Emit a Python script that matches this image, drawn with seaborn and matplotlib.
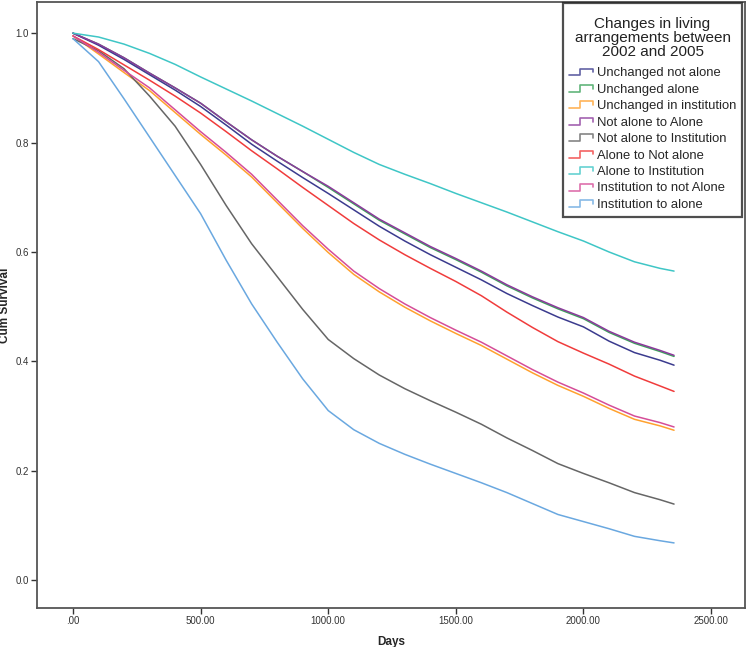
import pandas as pd
import matplotlib
matplotlib.use("Agg")
import matplotlib.pyplot as plt
from matplotlib.lines import Line2D
from matplotlib.legend_handler import HandlerBase
from matplotlib.offsetbox import DrawingArea
import seaborn as sns

sns.set_style("white")
plt.rcParams['font.family'] = ['Liberation Sans', 'DejaVu Sans']

days = [0, 100, 200, 300, 400, 500, 600, 700, 800, 900, 1000, 1100,
        1200, 1300, 1400, 1500, 1600, 1700, 1800, 1900, 2000, 2100, 2200, 2300, 2355]

unchanged_not_alone = [1.0, 0.978, 0.952, 0.924, 0.896, 0.866, 0.832, 0.797, 0.766, 0.736, 0.707, 0.677,
                       0.647, 0.620, 0.595, 0.572, 0.549, 0.524, 0.502, 0.481, 0.463, 0.437, 0.416, 0.402, 0.393]
unchanged_alone = [1.0, 0.980, 0.955, 0.927, 0.900, 0.872, 0.838, 0.805, 0.775, 0.747, 0.718, 0.688,
                   0.658, 0.633, 0.608, 0.586, 0.563, 0.538, 0.516, 0.496, 0.478, 0.453, 0.433, 0.418, 0.409]
unchanged_institution = [0.995, 0.962, 0.928, 0.895, 0.855, 0.815, 0.777, 0.737, 0.690, 0.643, 0.599, 0.559,
                         0.527, 0.499, 0.474, 0.451, 0.429, 0.404, 0.379, 0.356, 0.336, 0.314, 0.294, 0.282, 0.274]
not_alone_to_alone = [1.0, 0.980, 0.955, 0.927, 0.900, 0.872, 0.838, 0.805, 0.775, 0.747, 0.720, 0.690,
                      0.660, 0.635, 0.610, 0.588, 0.565, 0.540, 0.518, 0.498, 0.480, 0.455, 0.435, 0.420, 0.411]
not_alone_to_institution = [0.99, 0.968, 0.935, 0.885, 0.830, 0.760, 0.685, 0.615, 0.555, 0.495, 0.440, 0.405,
                            0.375, 0.350, 0.328, 0.307, 0.285, 0.260, 0.237, 0.213, 0.195, 0.178, 0.160, 0.147, 0.139]
alone_to_not_alone = [0.995, 0.970, 0.942, 0.914, 0.885, 0.854, 0.820, 0.785, 0.752, 0.718, 0.685, 0.652,
                      0.622, 0.595, 0.570, 0.546, 0.520, 0.490, 0.462, 0.436, 0.415, 0.395, 0.373, 0.355, 0.345]
alone_to_institution = [1.0, 0.993, 0.980, 0.963, 0.943, 0.920, 0.898, 0.876, 0.853, 0.830, 0.806, 0.782,
                        0.760, 0.742, 0.725, 0.707, 0.690, 0.673, 0.655, 0.637, 0.620, 0.600, 0.582, 0.570, 0.565]
institution_to_not_alone = [0.995, 0.965, 0.932, 0.900, 0.860, 0.820, 0.782, 0.742, 0.695, 0.648, 0.605, 0.565,
                            0.533, 0.505, 0.480, 0.457, 0.435, 0.410, 0.385, 0.362, 0.342, 0.320, 0.300, 0.288, 0.280]
institution_to_alone = [0.99, 0.948, 0.880, 0.810, 0.740, 0.670, 0.585, 0.505, 0.435, 0.368, 0.310, 0.275,
                        0.250, 0.230, 0.212, 0.195, 0.178, 0.160, 0.140, 0.120, 0.107, 0.094, 0.080, 0.072, 0.068]

groups = ["Unchanged not alone", "Unchanged alone", "Unchanged in institution",
          "Not alone to Alone", "Not alone to Institution", "Alone to Not alone",
          "Alone to Institution", "Institution to not Alone", "Institution to alone"]
series = [unchanged_not_alone, unchanged_alone, unchanged_institution,
          not_alone_to_alone, not_alone_to_institution, alone_to_not_alone,
          alone_to_institution, institution_to_not_alone, institution_to_alone]
colors = ["#3b3b8e", "#3aa35a", "#ffa12e", "#8c3a9c", "#666666",
          "#f03c3c", "#3fc6c6", "#d54d98", "#6aa8e0"]


class StepHandler(HandlerBase):
    # little survival-step icon like the SPSS legend
    def create_artists(self, legend, orig_handle, xdescent, ydescent,
                       width, height, fontsize, trans):
        x0, y0 = -xdescent, -ydescent
        xs = [x0, x0 + 0.45 * width, x0 + 0.45 * width, x0 + width, x0 + width]
        ys = [y0 + 0.1 * height, y0 + 0.1 * height, y0 + 0.85 * height,
              y0 + 0.85 * height, y0 + 0.45 * height]
        ln = Line2D(xs, ys, color=orig_handle.get_color(), lw=1.2, alpha=0.8)
        ln.set_transform(trans)
        return [ln]


rows = []
for g, vals in zip(groups, series):
    for d, v in zip(days, vals):
        rows.append({"Days": d, "Cum Survival": v, "group": g})
df = pd.DataFrame(rows)

fig = plt.figure(figsize=(7.5, 6.47), dpi=100)
ax = fig.add_axes([37/750, 39/647, 708/750, 606/647])

# draw order: purple over green, magenta over orange
order = [1, 0, 2, 3, 4, 5, 6, 7, 8]
for i in order:
    sub = df[df["group"] == groups[i]]
    sns.lineplot(data=sub, x="Days", y="Cum Survival", color=colors[i],
                 lw=1.1, estimator=None, ax=ax, legend=False)

ax.set_xlim(-141, 2633)
ax.set_ylim(-0.051, 1.057)
ax.set_xticks([0, 500, 1000, 1500, 2000, 2500])
ax.set_xticklabels([".00", "500.00", "1000.00", "1500.00", "2000.00", "2500.00"])
ax.set_yticks([0.0, 0.2, 0.4, 0.6, 0.8, 1.0])
ax.set_yticklabels(["0.0", "0.2", "0.4", "0.6", "0.8", "1.0"])
ax.tick_params(axis="both", direction="out", length=4, width=1, color="#333333",
               labelsize=7, labelcolor="#333333", bottom=True, left=True, pad=2)
for s in ax.spines.values():
    s.set_color("#555555")
    s.set_linewidth(1.3)
ax.set_xlabel("Days", fontsize=8.5, fontweight="bold", labelpad=7)
ax.set_ylabel("Cum Survival", fontsize=8.5, fontweight="bold")
ax.yaxis.set_label_coords(-26/708, 0.5)

handles = [Line2D([0], [0], color=c, lw=1.2) for c in colors]
leg = ax.legend(handles, groups,
                title="Changes in living\narrangements between\n2002 and 2005",
                loc="upper right", bbox_to_anchor=(0.9955, 0.999),
                handler_map={Line2D: StepHandler()},
                fontsize=9.4, title_fontsize=11, frameon=True, fancybox=False,
                handlelength=1.85, handletextpad=0.25, labelspacing=0.33,
                borderpad=0.45, borderaxespad=0)
leg.get_frame().set_edgecolor("#222222")
leg.get_frame().set_linewidth(1.6)
leg.get_title().set_multialignment("center")
leg.get_title().set_linespacing(1.0)
leg.get_title().set_color("#222222")
# a bit more room above the title and between title and entries
leg._legend_box._children.insert(0, DrawingArea(1, 0))
leg._legend_box.sep = 6

fig.savefig("out.png", dpi=100)
